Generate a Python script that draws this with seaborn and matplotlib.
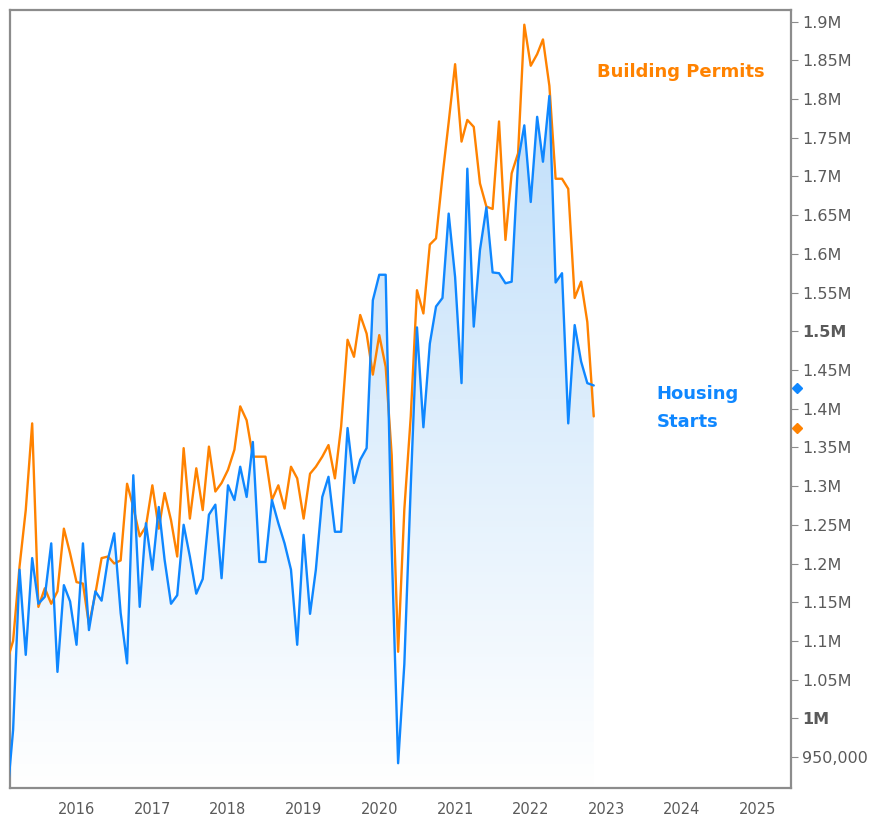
import numpy as np
import pandas as pd
import matplotlib
matplotlib.use("Agg")
import matplotlib.pyplot as plt
import matplotlib.dates as mdates
import matplotlib.ticker as ticker
from matplotlib.colors import LinearSegmentedColormap
import seaborn as sns

# monthly values, Feb 2015 .. Nov 2022 (thousands, SAAR)
months = pd.date_range("2015-02-01", periods=94, freq="MS")
housing_starts = [
    900, 985, 1192, 1082, 1207, 1148, 1157, 1226, 1060, 1172, 1151,
    1095, 1226, 1114, 1164, 1152, 1206, 1239, 1136, 1071, 1314, 1144, 1252, 1192,
    1273, 1205, 1148, 1159, 1250, 1209, 1161, 1180, 1263, 1276, 1181, 1301,
    1282, 1325, 1286, 1357, 1202, 1202, 1282, 1252, 1226, 1192, 1095, 1237,
    1135, 1192, 1286, 1312, 1241, 1241, 1375, 1304, 1334, 1349, 1540, 1573,
    1573, 1220, 942, 1070, 1300, 1505, 1376, 1484, 1532, 1543, 1652, 1570,
    1433, 1710, 1506, 1605, 1660, 1576, 1575, 1562, 1564, 1720, 1766, 1667,
    1777, 1719, 1804, 1563, 1575, 1381, 1508, 1461, 1433, 1430,
]
building_permits = [
    1075, 1100, 1196, 1269, 1381, 1144, 1168, 1148, 1164, 1245, 1213,
    1176, 1174, 1121, 1161, 1207, 1209, 1200, 1204, 1303, 1273, 1235, 1248, 1301,
    1245, 1291, 1256, 1209, 1349, 1258, 1323, 1269, 1351, 1293, 1304, 1321,
    1347, 1403, 1385, 1338, 1338, 1338, 1282, 1301, 1271, 1325, 1310, 1258,
    1316, 1325, 1338, 1353, 1310, 1377, 1489, 1467, 1521, 1497, 1444, 1495,
    1454, 1340, 1086, 1270, 1390, 1553, 1523, 1612, 1620, 1700, 1770, 1845,
    1745, 1773, 1764, 1691, 1661, 1658, 1771, 1618, 1704, 1730, 1896, 1843,
    1858, 1877, 1817, 1697, 1697, 1684, 1543, 1564, 1512, 1390,
]
last_starts = 1427
last_permits = 1375

df = pd.DataFrame({
    "date": months,
    "starts": np.array(housing_starts) * 1000.0,
    "permits": np.array(building_permits) * 1000.0,
})

BLUE = "#0f87ff"
ORANGE = "#ff8200"
GREY = "#5a5a5a"

sns.set_style("white")
plt.rcParams["font.family"] = ["DejaVu Sans"]

fig = plt.figure(figsize=(8.71, 8.19), dpi=100)
ax = fig.add_axes([10 / 871, 1 - 788 / 819, 781 / 871, 778 / 819])

ymin, ymax = 910000, 1915000
x0 = pd.Timestamp("2015-02-14")
x1 = pd.Timestamp("2025-06-10")

# gradient fill under housing starts
poly = ax.fill_between(df["date"], df["starts"], ymin - 50000, facecolor="none", edgecolor="none")
cmap = LinearSegmentedColormap.from_list("fade", ["#ffffff", "#b9dbf9"])
grad = np.linspace(0, 1, 256).reshape(-1, 1)
img = ax.imshow(grad, cmap=cmap, aspect="auto", origin="lower",
                extent=[mdates.date2num(x0), mdates.date2num(df["date"].iloc[-1]), ymin, ymax],
                zorder=1)
img.set_clip_path(poly.get_paths()[0], transform=ax.transData)

sns.lineplot(data=df, x="date", y="permits", ax=ax, color=ORANGE, linewidth=1.7, zorder=3)
sns.lineplot(data=df, x="date", y="starts", ax=ax, color=BLUE, linewidth=1.7, zorder=4)

ax.set_xlim(x0, x1)
ax.set_ylim(ymin, ymax)
ax.set_xlabel("")
ax.set_ylabel("")

# last-value markers on the right axis
ax.plot([1.008], [last_starts * 1000], transform=ax.get_yaxis_transform(), marker="D",
        color=BLUE, markersize=5, clip_on=False, linestyle="none")
ax.plot([1.008], [last_permits * 1000], transform=ax.get_yaxis_transform(), marker="D",
        color=ORANGE, markersize=5, clip_on=False, linestyle="none")

for s in ax.spines.values():
    s.set_color("#8c8c8c")
    s.set_linewidth(1.6)

ax.xaxis.set_major_locator(mdates.YearLocator(1))
ax.xaxis.set_major_formatter(mdates.DateFormatter("%Y"))
ax.tick_params(axis="x", direction="out", length=4, color="#8c8c8c", labelsize=10.5,
               labelcolor=GREY, pad=6)

ax.yaxis.tick_right()
yt = np.arange(950000, 1900001, 50000)
ax.set_yticks(yt)


def fmt(v, pos=None):
    if v < 1000000:
        return f"{int(v):,}"
    s = f"{v / 1e6:.2f}".rstrip("0").rstrip(".")
    return s + "M"


ax.set_yticklabels([fmt(v) for v in yt])
ax.tick_params(axis="y", direction="out", length=5, color="#8c8c8c", labelsize=11.5,
               labelcolor=GREY, pad=3)
for lab, v in zip(ax.get_yticklabels(), yt):
    if v in (1000000, 1500000):
        lab.set_fontweight("bold")

ax.text(0.7516, 0.920, "Building Permits", transform=ax.transAxes, color=ORANGE,
        fontsize=13, fontweight="bold", va="center", ha="left")
ax.text(0.828, 0.5064, "Housing", transform=ax.transAxes, color=BLUE,
        fontsize=13, fontweight="bold", va="center", ha="left")
ax.text(0.828, 0.4704, "Starts", transform=ax.transAxes, color=BLUE,
        fontsize=13, fontweight="bold", va="center", ha="left")

fig.savefig("out.png", dpi=100)
